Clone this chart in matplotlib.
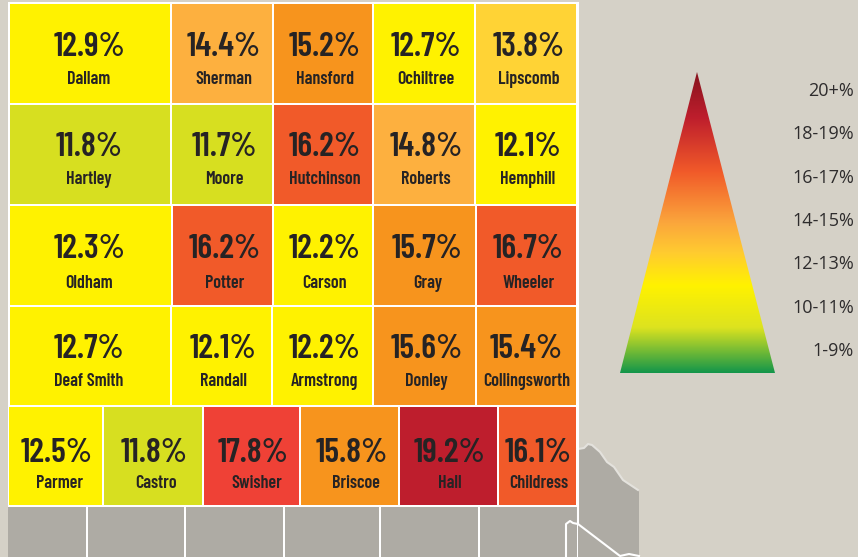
import matplotlib
matplotlib.use('Agg')
import matplotlib.pyplot as plt
import numpy as np
from matplotlib.colors import LinearSegmentedColormap
from matplotlib.patches import Polygon, Rectangle

# county rows, north to south
counties = [
    ['Dallam', 'Sherman', 'Hansford', 'Ochiltree', 'Lipscomb'],
    ['Hartley', 'Moore', 'Hutchinson', 'Roberts', 'Hemphill'],
    ['Oldham', 'Potter', 'Carson', 'Gray', 'Wheeler'],
    ['Deaf Smith', 'Randall', 'Armstrong', 'Donley', 'Collingsworth'],
    ['Parmer', 'Castro', 'Swisher', 'Briscoe', 'Hall', 'Childress'],
]
rates = [
    [12.9, 14.4, 15.2, 12.7, 13.8],
    [11.8, 11.7, 16.2, 14.8, 12.1],
    [12.3, 16.2, 12.2, 15.7, 16.7],
    [12.7, 12.1, 12.2, 15.6, 15.4],
    [12.5, 11.8, 17.8, 15.8, 19.2, 16.1],
]
legend_labels = ['20+%', '18-19%', '16-17%', '14-15%', '12-13%', '10-11%', '1-9%']

BG = '#d5d1c7'
GREY = '#aeaba4'
INK = '#262324'
FONT = ['Barlow Condensed', 'DejaVu Sans']

# pixel layout of the map
row_edges = [(4, 103), (105, 204), (206, 305), (307, 405), (407, 505)]
col_edges = [
    [10, 172, 274, 374, 476, 578],
    [10, 172, 274, 374, 476, 578],
    [10, 173, 274, 374, 477, 578],
    [10, 172, 273, 374, 477, 578],
    [9, 104, 204, 301, 400, 499, 578],
]
value_y = [47, 147, 249, 350, 454]
name_y = [79, 180, 284, 381, 484]
legend_y = [91, 134, 178, 221, 264, 308, 351]
grey_edges = [8, 88, 186, 285, 381, 480, 579]
# small nudges, the labels are not quite centred in their counties
value_dx = [[-1, 2, 2, 2, 3], [-1, 2, 2, 2, 2], [-1, 2, 2, 2, 2], [-1, 2, 2, 2, 0], [1, 1, 2, 2, 1, 1]]
name_dx = [[-1, 2, 2, 2, 3], [-1, 2, 2, 2, 2], [-1, 2, 2, 3, 2], [-1, 2, 2, 2, 0], [4, 3, 5, 6, 1, 1]]


def rate_colour(r):
    if r < 12:
        return '#d7df20'
    if r < 13.5:
        return '#fff200'
    if r < 14:
        return '#ffd335'
    if r < 15:
        return '#fdb03f'
    if r < 16:
        return '#f7941d'
    if r < 17:
        return '#f15a29'
    if r < 19:
        return '#ef4136'
    return '#be1e2d'


fig = plt.figure(figsize=(8.58, 5.57), dpi=100, facecolor=BG)
ax = fig.add_axes([0, 0, 1, 1])
ax.set_xlim(0, 858)
ax.set_ylim(557, 0)
ax.axis('off')

# white backing gives the county borders
ax.add_patch(Rectangle((8, 2), 570, 555, fc='white', ec='none'))

# grey counties to the south and east
for x0, x1 in zip(grey_edges[:-1], grey_edges[1:]):
    ax.add_patch(Rectangle((x0, 507), x1 - x0 - 2, 50, fc=GREY, ec='none'))
east = [(578, 449), (584, 448), (588, 444), (592, 445), (600, 452), (607, 462),
        (614, 467), (623, 480), (638, 490)]
ax.add_patch(Polygon(east + [(639, 490), (639, 557), (578, 557)], fc=GREY, ec='none'))
ax.plot(*zip(*east), color='#e4e2dd', lw=1.5)
ax.plot([578, 578], [3, 524], color='white', lw=1.5)
ax.plot([566, 566, 570, 573, 578, 620, 629, 639], [557, 524, 521, 523, 524, 556, 554, 556],
        color='white', lw=1.5)

for i, (names, vals) in enumerate(zip(counties, rates)):
    y0, y1 = row_edges[i]
    edges = col_edges[i]
    for j, (name, val) in enumerate(zip(names, vals)):
        x0, x1 = edges[j], edges[j + 1] - 2
        ax.add_patch(Rectangle((x0, y0), x1 - x0, y1 - y0, fc=rate_colour(val), ec='none'))
        xc = (x0 + x1) / 2
        ax.text(xc + value_dx[i][j], value_y[i], f'{val}%', ha='center', va='center', color=INK,
                family=FONT, weight=600, fontsize=24.5)
        ax.text(xc + name_dx[i][j], name_y[i], name, ha='center', va='center', color=INK,
                family=FONT, weight=600, fontsize=13)

# legend triangle with vertical gradient
stops = [(0.0, '#86131d'), (0.15, '#be1e2d'), (0.33, '#f15a29'), (0.5, '#fba63c'),
         (0.6, '#ffcb30'), (0.71, '#fff200'), (0.85, '#dde31f'), (1.0, '#14964a')]
cmap = LinearSegmentedColormap.from_list('legend', stops)
grad = np.linspace(0, 1, 256).reshape(-1, 1)
im = ax.imshow(grad, cmap=cmap, extent=(620, 775, 373, 72), aspect='auto', zorder=2)
tri = Polygon([(697, 72), (775, 373), (620, 373)], transform=ax.transData, fc='none', ec='none')
ax.add_patch(tri)
im.set_clip_path(tri)
ax.set_xlim(0, 858)
ax.set_ylim(557, 0)

for lab, y in zip(legend_labels, legend_y):
    ax.text(854, y, lab, ha='right', va='center', color='#2e2c2d', family='Open Sans', fontsize=13)

fig.savefig('out.png', dpi=100, facecolor=BG)
